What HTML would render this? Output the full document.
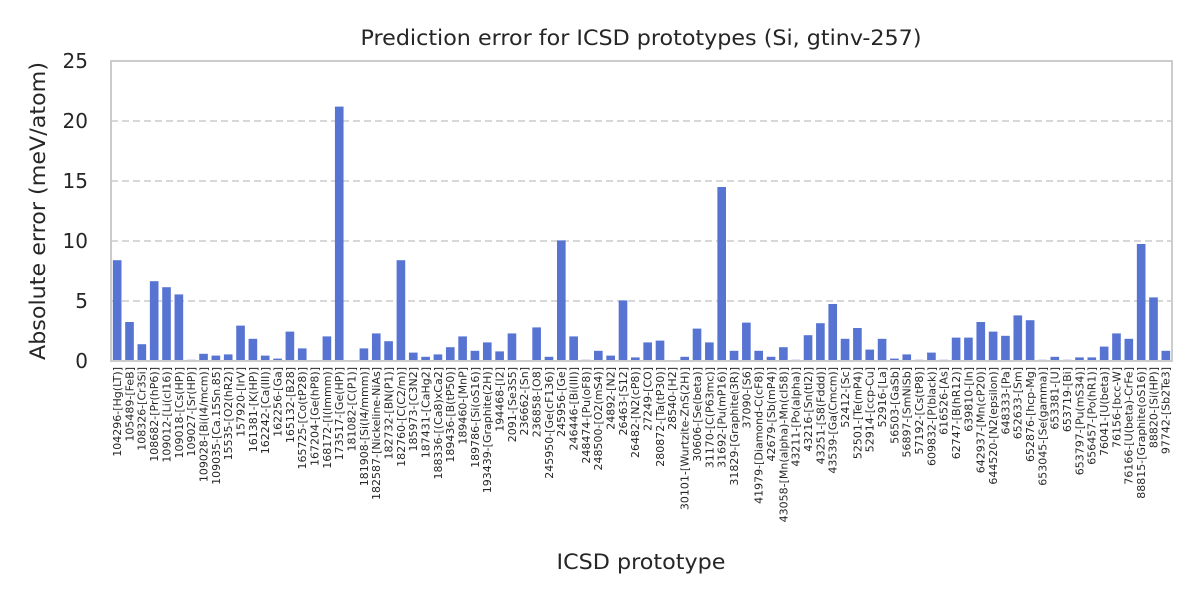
<!DOCTYPE html>
<html><head><meta charset="utf-8"><style>
body{margin:0;background:#fff;}
svg{display:block;font-family:"DejaVu Sans","Liberation Sans",sans-serif;}
</style></head><body>
<svg id="chart" width="1200" height="600" viewBox="0 0 1200 600">
<rect width="1200" height="600" fill="#fff"/>
<text x="641" y="45" text-anchor="middle" font-size="21" textLength="561" lengthAdjust="spacingAndGlyphs" fill="#262626">Prediction error for ICSD prototypes (Si, gtinv-257)</text>
<g id="grid"></g>
<g id="bars"></g>
<rect x="111" y="61" width="1061" height="300" fill="none" stroke="#cccccc" stroke-width="2"/>
<g id="yticks"></g>
<g id="xticks"></g>
<text transform="translate(45,211) rotate(-90)" text-anchor="middle" font-size="21" textLength="298" lengthAdjust="spacingAndGlyphs" fill="#262626">Absolute error (meV/atom)</text>
<text x="641" y="569" text-anchor="middle" font-size="21" textLength="169" lengthAdjust="spacingAndGlyphs" fill="#262626">ICSD prototype</text>
</svg>
<script>
const categories = ["104296-[Hg(LT)]","105489-[FeB]","108326-[Cr3Si]","108682-[Pr(hP6)]","109012-[Li(cI16)]","109018-[Cs(HP)]","109027-[Sr(HP)]","109028-[Bi(I4/mcm)]","109035-[Ca.15Sn.85]","15535-[O2(hR2)]","157920-[IrV]","161381-[K(HP)]","162242-[Ca(III)]","162256-[Ga]","165132-[B28]","165725-[Co(tP28)]","167204-[Ge(hP8)]","168172-[I(Immm)]","173517-[Ge(HP)]","181082-[C(P1)]","181908-[Si(I4/mmm)]","182587-[Nickeline-NiAs]","182732-[BN(P1)]","182760-[C(C2/m)]","185973-[C3N2]","187431-[CaHg2]","188336-[(Ca8)xCa2]","189436-[B(tP50)]","189460-[MnP]","189786-[Si(oS16)]","193439-[Graphite(2H)]","194468-[I2]","2091-[Se3S5]","236662-[Sn]","236858-[O8]","245950-[Ge(cF136)]","245956-[Ge]","246446-[Bi(III)]","248474-[Pu(oF8)]","248500-[O2(mS4)]","24892-[N2]","26463-[S12]","26482-[N2(cP8)]","27249-[CO]","280872-[Ta(tP30)]","28540-[H2]","30101-[Wurtzite-ZnS(2H)]","30606-[Se(beta)]","31170-[C(P63mc)]","31692-[Pu(mP16)]","31829-[Graphite(3R)]","37090-[S6]","41979-[Diamond-C(cF8)]","42679-[Sb(mP4)]","43058-[Mn(alpha)-Mn(cI58)]","43211-[Po(alpha)]","43216-[Sn(tI2)]","43251-[S8(Fddd)]","43539-[Ga(Cmcm)]","52412-[Sc]","52501-[Te(mP4)]","52914-[ccp-Cu]","52916-[La]","56503-[GaSb]","56897-[SmNiSb]","57192-[Cs(tP8)]","609832-[P(black)]","616526-[As]","62747-[B(hR12)]","639810-[In]","642937-[Mn(cP20)]","644520-[N2(epsilon)]","648333-[Pa]","652633-[Sm]","652876-[hcp-Mg]","653045-[Se(gamma)]","653381-[U]","653719-[Bi]","653797-[Pu(mS34)]","656457-[Po(hR1)]","76041-[U(beta)]","76156-[bcc-W]","76166-[U(beta)-CrFe]","88815-[Graphite(oS16)]","88820-[Si(HP)]","97742-[Sb2Te3]"];
const errors = [8.4,3.25,1.4,6.65,6.15,5.55,0.1,0.6,0.45,0.55,2.95,1.85,0.45,0.2,2.45,1.05,0,2.05,21.2,0,1.05,2.3,1.65,8.4,0.7,0.35,0.55,1.15,2.05,0.85,1.55,0.8,2.3,0,2.8,0.35,10.05,2.05,0.1,0.85,0.45,5.05,0.3,1.55,1.7,0,0.35,2.7,1.55,14.5,0.85,3.2,0.85,0.35,1.15,0.1,2.15,3.15,4.75,1.85,2.75,0.95,1.85,0.2,0.55,0.1,0.7,0.1,1.95,1.95,3.25,2.45,2.1,3.8,3.4,0.1,0.35,0.1,0.3,0.3,1.2,2.3,1.85,9.75,5.3,0.85];
const yTicks = [0,5,10,15,20,25];
const NS="http://www.w3.org/2000/svg";
const X0=111,X1=1172,Y0=361,Y1=61,YMAX=25;
const step=(X1-X0)/categories.length;
const xc=i=>X0+step*(i+0.5);
const y=v=>Y0-(v/YMAX)*(Y0-Y1);
function mk(tag,attrs,parent){const e=document.createElementNS(NS,tag);for(const k in attrs)e.setAttribute(k,attrs[k]);parent.appendChild(e);return e;}
const grid=document.getElementById('grid'),bars=document.getElementById('bars'),yt=document.getElementById('yticks'),xt=document.getElementById('xticks');
yTicks.forEach(t=>{
  if(t>0&&t<YMAX){const l=mk('line',{x1:X0,x2:X1,y1:y(t),y2:y(t),stroke:'#cccccc','stroke-width':1.6,'stroke-dasharray':'7,4'},grid);
  
  }
  const tx=mk('text',{x:88,y:y(t)+7,'text-anchor':'end','font-size':20,fill:'#262626'},yt);
  tx.textContent=t;
  
  
});
const bw=step*0.7;
categories.forEach((c,i)=>{
  const v=errors[i];
  const r=mk('rect',{x:xc(i)-bw/2,y:y(v),width:bw,height:Math.max(0,Y0-y(v)),fill:'#5874d3'},bars);
  
  
  const t=mk('text',{transform:`translate(${xc(i)+3.9},367) rotate(-90)`,'text-anchor':'end','font-size':11,fill:'#262626'},xt);
  t.textContent=c;
  
  
});
</script>
</body></html>
